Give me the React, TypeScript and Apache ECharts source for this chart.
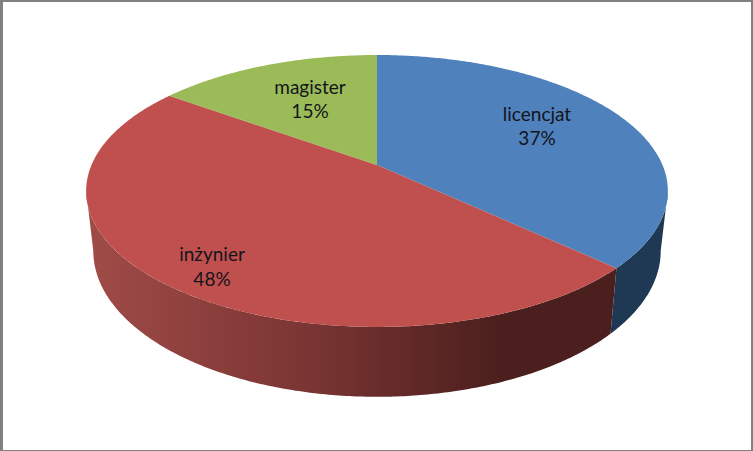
import React, { useEffect, useRef } from "react";
import * as echarts from "echarts";

const categories = ["licencjat", "inżynier", "magister"];
const percentValues = [37, 48, 15];
const topColors = ["#4F81BD", "#C0504D", "#9BBB59"];

const W = 753;
const H = 451;
const CX = 377;
const PERSPECTIVE = 0.191;
const TOP_RIM = { a: 285.5, b: 131, y0: 165 };
const BOTTOM_RIM = { a: 278.5, b: 140.6, y0: 223 };
const LABEL_POS: [number, number][] = [[537, 125.5], [212, 266], [310, 98.5]];

type Rim = { a: number; b: number; y0: number };

function project(rim: Rim, angle: number, r = 1): [number, number] {
  const u = Math.sin(angle) * r;
  const v = -Math.cos(angle) * r;
  const w = 1 - PERSPECTIVE * v;
  return [CX + (rim.a * u) / w, rim.y0 + (rim.b * v) / w];
}

function arc(rim: Rim, from: number, to: number): [number, number][] {
  const n = Math.max(2, Math.ceil(Math.abs(to - from) / 0.01));
  const pts: [number, number][] = [];
  for (let i = 0; i <= n; i++) pts.push(project(rim, from + ((to - from) * i) / n));
  return pts;
}

const SIL_RIGHT = Math.PI - Math.acos(PERSPECTIVE);
const SIL_LEFT = Math.PI + Math.acos(PERSPECTIVE);

function sideFill(index: number): any {
  if (index === 0) return "#1F3853";
  if (index === 1) {
    return new echarts.graphic.LinearGradient(0, 0, 1, 0, [
      { offset: 0, color: "#A04B48" },
      { offset: 0.42, color: "#7A3533" },
      { offset: 0.78, color: "#4B1F1D" },
      { offset: 1, color: "#4B1F1D" },
    ]);
  }
  return "#6A8040";
}

function renderSlice(params: any, api: any) {
  const i = params.dataIndex;
  const total = percentValues.reduce((s, v) => s + v, 0);
  const before = percentValues.slice(0, i).reduce((s, v) => s + v, 0);
  const start = (before / total) * Math.PI * 2;
  const end = ((before + api.value(0)) / total) * Math.PI * 2;

  const children: any[] = [];
  const sideStart = Math.max(start, SIL_RIGHT);
  const sideEnd = Math.min(end, SIL_LEFT);
  const hasSide = start < SIL_LEFT && end > SIL_RIGHT && sideEnd > sideStart;
  if (hasSide) {
    const a0 = i === 0 ? SIL_RIGHT : start;
    const a1 = i === 1 ? SIL_LEFT : end;
    children.push({
      type: "polygon",
      shape: { points: [...arc(TOP_RIM, a0, a1), ...arc(BOTTOM_RIM, a1, a0)] },
      style: { fill: sideFill(i), stroke: null },
    });
  }
  children.push({
    type: "polygon",
    shape: { points: [[CX, TOP_RIM.y0], ...arc(TOP_RIM, start, end)] },
    style: { fill: topColors[i], stroke: null },
  });
  return { type: "group", children };
}

function renderLabel(params: any, api: any) {
  const i = params.dataIndex;
  const [x, y] = LABEL_POS[i];
  return {
    type: "text",
    x,
    y,
    style: {
      text: `${categories[i]}\n${api.value(0)}%`,
      x: 0,
      y: 0,
      fill: "#14141C",
      font: '19px Lato, "Open Sans", sans-serif',
      lineHeight: 24.5,
      align: "center",
      verticalAlign: "middle",
    },
  };
}

export default function App() {
  const ref = useRef<HTMLDivElement>(null);
  useEffect(() => {
    const chart = echarts.init(ref.current!, undefined, { renderer: "svg", width: W, height: H });
    const seriesData = percentValues.map((v, i) => ({ name: categories[i], value: [v] }));
    chart.setOption({
      animation: false,
      backgroundColor: "#FFFFFF",
      graphic: [
        { type: "rect", z: 100, shape: { x: 0, y: 0, width: W, height: 2 }, style: { fill: "#808080" } },
        { type: "rect", z: 100, shape: { x: 0, y: 0, width: 3, height: H }, style: { fill: "#808080" } },
        { type: "rect", z: 100, shape: { x: W - 2, y: 0, width: 2, height: H }, style: { fill: "#808080" } },
        { type: "rect", z: 100, shape: { x: 0, y: H - 1, width: W, height: 1 }, style: { fill: "#808080" } },
      ],
      series: [
        { type: "custom", coordinateSystem: "none", renderItem: renderSlice, data: seriesData, silent: true, z: 1 },
        { type: "custom", coordinateSystem: "none", renderItem: renderLabel, data: seriesData, silent: true, z: 2 },
      ],
    });
    return () => chart.dispose();
  }, []);
  return <div ref={ref} style={{ position: "absolute", left: 0, top: 0, width: W, height: H }} />;
}
